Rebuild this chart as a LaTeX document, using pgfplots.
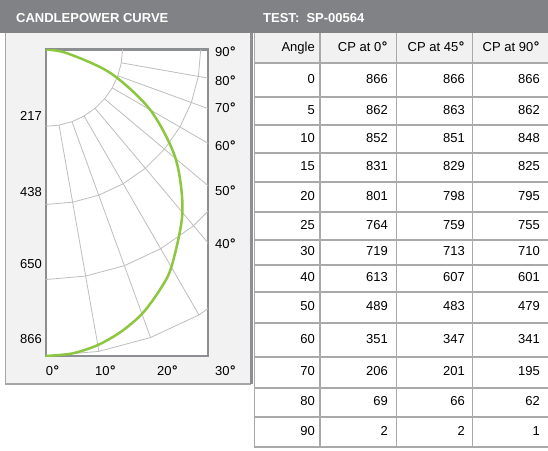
\documentclass[border=0pt]{standalone}
\usepackage{pgfplots}
\pgfplotsset{compat=1.18}
\usepackage{pgfplotstable}
\usepackage{fontspec}
\setmainfont{Liberation Sans}
\newfontfamily\degfont{DejaVu Sans}
\newcommand{\dg}{{\degfont\bfseries °}}
\definecolor{hdr}{HTML}{808285}
\definecolor{panel}{HTML}{F2F2F2}
\definecolor{pborder}{HTML}{A5A7AA}
\definecolor{aborder}{HTML}{8C8E91}
\definecolor{gridc}{HTML}{BEBEBE}
\definecolor{curve}{HTML}{8DC63F}
\definecolor{tline}{HTML}{A9A9A9}
\definecolor{thead}{HTML}{F1F1F1}

\pgfplotstableread{
ang cp0 cp45 cp90
0 866 866 866
5 862 863 862
10 852 851 848
15 831 829 825
20 801 798 795
25 764 759 755
30 719 713 710
40 613 607 601
50 489 483 479
60 351 347 341
70 206 201 195
80 69 66 62
90 2 2 1
}\cpdata

\begin{document}
\fontsize{13}{15}\selectfont
\begin{tikzpicture}[x=1pt,y=1pt]
\useasboundingbox (0,0) rectangle (548,-450);
% header bar
\fill[hdr] (0,0) rectangle (548,-33);
\node[anchor=base west, text=white, font=\fontsize{13}{15}\selectfont\bfseries, inner sep=0] at (16,-22) {CANDLEPOWER CURVE};
\node[anchor=base west, text=white, font=\fontsize{13}{15}\selectfont\bfseries, inner sep=0] at (263,-22) {TEST:\ \ SP-00564};
% left panel
\fill[panel] (5.5,-33) rectangle (251,-384);
\draw[pborder, line width=1.5] (5.5,-33) -- (5.5,-384) -- (251,-384);
% table header background
\fill[thead] (254,-33) rectangle (548,-63);
% table lines
\foreach \yy in {63,97,125,153,182,212,240,265,292,323,357,388,417,447}
  \draw[tline, line width=1.5] (254,-\yy) -- (548,-\yy);
\foreach \xx in {320,396.7,472.7}
  \draw[tline, line width=1.5] (\xx,-33) -- (\xx,-447);
\draw[tline, line width=1.5] (254.5,-33) -- (254.5,-447);
\draw[aborder, line width=3] (251.5,-33) -- (251.5,-384);
% table text
\begin{scope}[every node/.style={inner sep=0}]
\node[anchor=mid east] at (315,-48) {Angle};
\node[anchor=mid east] at (388,-48) {CP at 0\dg};
\node[anchor=mid east] at (465,-48) {CP at 45\dg};
\node[anchor=mid east] at (540,-48) {CP at 90\dg};
\foreach \yc/\a/\b/\c/\d in {80/0/866/866/866, 111/5/862/863/862, 139/10/852/851/848, 167.5/15/831/829/825, 197/20/801/798/795, 226/25/764/759/755, 252.5/30/719/713/710, 278.5/40/613/607/601, 307.5/50/489/483/479, 340/60/351/347/341, 372.5/70/206/201/195, 402.5/80/69/66/62, 432/90/2/2/1}{
  \node[anchor=mid east] at (315,-\yc) {\a};
  \node[anchor=mid east] at (388,-\yc) {\b};
  \node[anchor=mid east] at (465,-\yc) {\c};
  \node[anchor=mid east] at (540,-\yc) {\d};
}
\end{scope}
% candlepower chart
\begin{axis}[at={(45.7pt,-356pt)}, anchor=south west, scale only axis,
  width=162.3pt, height=306.5pt,
  xmin=0, xmax=458.6, ymin=-866, ymax=0,
  axis line style={draw=aborder, line width=2.2pt},
  ticks=none,
  axis background/.style={fill=white},
  every axis plot/.append style={line join=round}]
\addplot[gridc, line width=0.8pt, data cs=polar] coordinates {(-90,217) (-80,217) (-70,217) (-60,217) (-50,217) (-40,217) (-30,217) (-20,217) (-10,217) (0,217)};
\addplot[gridc, line width=0.8pt, data cs=polar] coordinates {(-90,438) (-80,438) (-70,438) (-60,438) (-50,438) (-40,438) (-30,438) (-20,438) (-10,438) (0,438)};
\addplot[gridc, line width=0.8pt, data cs=polar] coordinates {(-90,650) (-80,650) (-70,650) (-60,650) (-50,650) (-40,650) (-30,650) (-20,650) (-10,650) (0,650)};
\addplot[gridc, line width=0.8pt, data cs=polar] coordinates {(-90,866) (-80,866) (-70,866) (-60,866) (-50,866) (-40,866) (-30,866) (-20,866) (-10,866) (0,866)};
\addplot[gridc, line width=0.8pt, data cs=polar] coordinates {(-80,217) (-80,866)};
\addplot[gridc, line width=0.8pt, data cs=polar] coordinates {(-70,217) (-70,866)};
\addplot[gridc, line width=0.8pt, data cs=polar] coordinates {(-60,217) (-60,866)};
\addplot[gridc, line width=0.8pt, data cs=polar] coordinates {(-50,217) (-50,866)};
\addplot[gridc, line width=0.8pt, data cs=polar] coordinates {(-40,217) (-40,866)};
\addplot[gridc, line width=0.8pt, data cs=polar] coordinates {(-30,217) (-30,866)};
\addplot[gridc, line width=0.8pt, data cs=polar] coordinates {(-20,217) (-20,866)};
\addplot[gridc, line width=0.8pt, data cs=polar] coordinates {(-10,217) (-10,866)};
\addplot[curve, line width=2.5pt, smooth, data cs=polar] table[x expr=\thisrow{ang}-90, y=cp90] {\cpdata};
\end{axis}
% radial labels
\begin{scope}[every node/.style={inner sep=0}]
\node[anchor=mid east] at (42,-117) {217};
\node[anchor=mid east] at (42,-193) {438};
\node[anchor=mid east] at (42,-265) {650};
\node[anchor=mid east] at (42,-340) {866};
\node[anchor=mid west] at (215,-53) {90\dg};
\node[anchor=mid west] at (215,-82) {80\dg};
\node[anchor=mid west] at (215,-109) {70\dg};
\node[anchor=mid west] at (215,-147) {60\dg};
\node[anchor=mid west] at (215,-192) {50\dg};
\node[anchor=mid west] at (215,-245) {40\dg};
\node[anchor=mid west] at (45.7,-372) {0\dg};
\node[anchor=mid west] at (95,-372) {10\dg};
\node[anchor=mid west] at (157,-372) {20\dg};
\node[anchor=mid west] at (215,-372) {30\dg};
\end{scope}
\end{tikzpicture}
\end{document}
